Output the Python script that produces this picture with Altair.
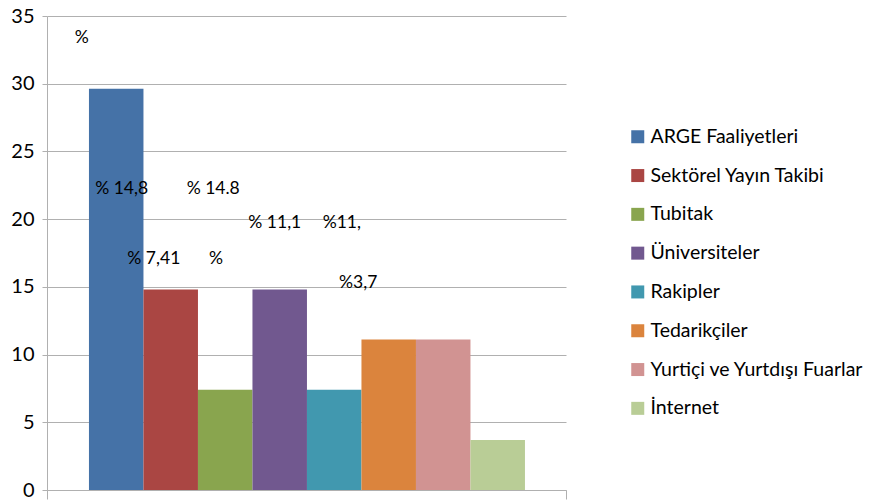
import altair as alt
import pandas as pd

categories = ["ARGE Faaliyetleri", "Sektörel Yayın Takibi", "Tubitak", "Üniversiteler",
              "Rakipler", "Tedarikçiler", "Yurtiçi ve Yurtdışı Fuarlar", "İnternet"]
values = [29.63, 14.81, 7.41, 14.81, 7.41, 11.11, 11.11, 3.7]
colors = ["#4572A7", "#AA4643", "#89A54E", "#71588F", "#4198AF", "#DB843D", "#D19392", "#B9CD96"]

note_texts = ["%", "% 14,8", "% 14.8", "% 11,1", "%11,", "% 7,41", "%", "%3,7"]
note_x = [-0.13, 0.60, 2.28, 3.41, 4.64, 1.19, 2.33, 4.94]
note_y = [33.4, 22.2, 22.2, 19.7, 19.7, 17.06, 17.06, 15.3]

FONT = "Lato"

bars_df = pd.DataFrame({
    "cat": categories,
    "val": values,
    "base": [0] * len(categories),
    "x0": list(range(len(categories))),
    "x1": [i + 1 for i in range(len(categories))],
})
notes_df = pd.DataFrame({"t": note_texts, "x": note_x, "y": note_y})

xdom = [-0.77, 8.753]
xscale = alt.Scale(domain=xdom, nice=False, zero=False)
yscale = alt.Scale(domain=[0, 35], nice=False)

bars = alt.Chart(bars_df).mark_bar(cornerRadius=0, strokeWidth=0).encode(
    x=alt.X("x0:Q", scale=xscale,
            axis=alt.Axis(values=xdom, labels=False, title=None, grid=False,
                          tickSize=9, tickColor="#B0B0B0", domainColor="#B0B0B0")),
    x2="x1:Q",
    y=alt.Y("val:Q", scale=yscale,
            axis=alt.Axis(values=[0, 5, 10, 15, 20, 25, 30, 35], title=None,
                          grid=True, gridColor="#B0B0B0", tickSize=5,
                          tickColor="#B0B0B0", domainColor="#B0B0B0",
                          labelFont=FONT, labelFontSize=20, labelColor="#000000",
                          labelPadding=8)),
    y2="base:Q",
    color=alt.Color("cat:N", sort=categories,
                    scale=alt.Scale(domain=categories, range=colors),
                    legend=alt.Legend(title=None, orient="none", legendX=581, legendY=111,
                                      symbolType="square", symbolSize=169,
                                      symbolStrokeWidth=0, labelFont=FONT,
                                      labelFontSize=19.5, labelColor="#000000",
                                      labelLimit=400,
                                      rowPadding=17.8, labelOffset=3)),
)

notes = alt.Chart(notes_df).mark_text(font=FONT, fontSize=17.5, color="#000000",
                                      align="center", baseline="middle").encode(
    x=alt.X("x:Q", scale=xscale),
    y=alt.Y("y:Q", scale=yscale),
    text="t:N",
)

chart = alt.layer(bars, notes).properties(
    width=519, height=474,
    autosize=alt.AutoSizeParams(type="none"),
    padding={"left": 47, "top": 16, "right": 309, "bottom": 10},
).configure_view(stroke=None).configure_axis(domainWidth=1, gridWidth=1)

chart.save("out.html", embed_options={"renderer": "svg", "actions": False})
